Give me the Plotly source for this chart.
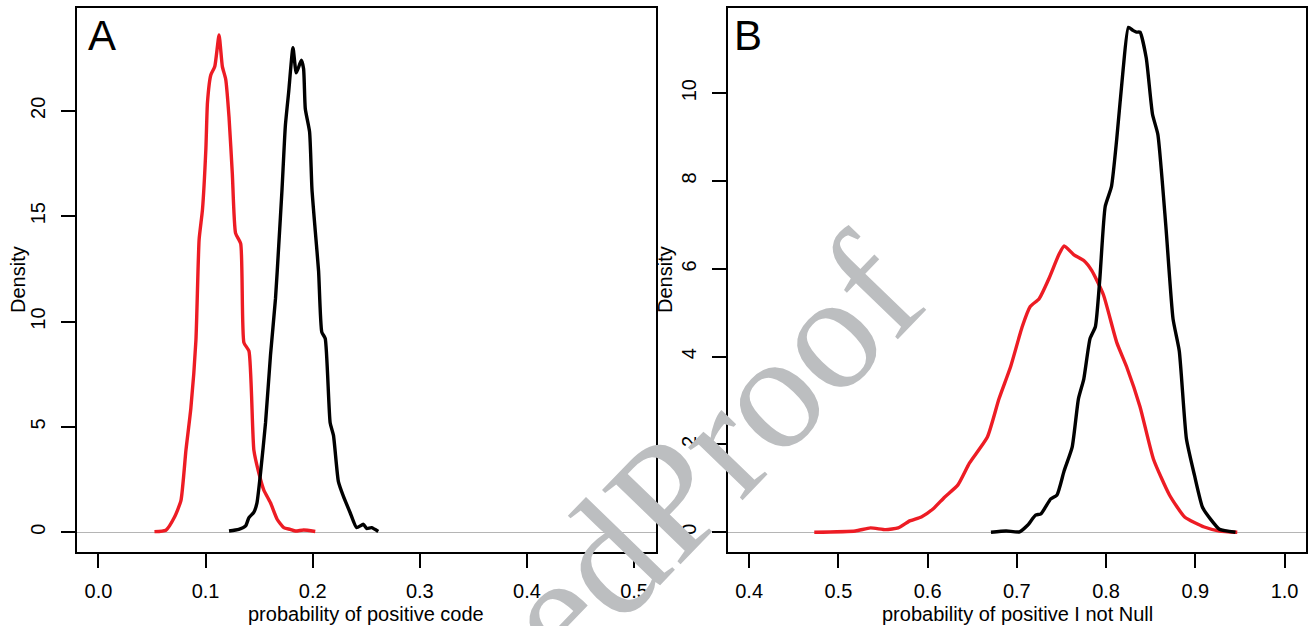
import plotly.graph_objects as go

# ---------------- data ----------------
# Panel A: probability of positive code
a_red_x = [0.0523, 0.063, 0.0708, 0.077, 0.0817, 0.0863, 0.091, 0.094, 0.0971, 0.1003,
           0.1018, 0.1049, 0.1086, 0.1126, 0.1157, 0.1188, 0.1219, 0.125, 0.128, 0.1328,
           0.1358, 0.1405, 0.1451, 0.1498, 0.1544, 0.1606, 0.1668, 0.173, 0.179, 0.184,
           0.1915, 0.2024]
a_red_y = [0.03, 0.1, 0.7, 1.5, 3.9, 5.9, 9.1, 13.9, 15.3, 18.2,
           20.4, 21.7, 22.1, 23.6, 22.1, 21.5, 19.7, 17.0, 14.2, 13.7,
           9.0, 8.6, 3.9, 2.8, 2.0, 1.4, 0.62, 0.22, 0.14, 0.06,
           0.11, 0.04]
a_blk_x = [0.1219, 0.131, 0.1374, 0.1405, 0.145, 0.148, 0.1513, 0.156, 0.1606, 0.1653,
           0.1683, 0.1714, 0.1745, 0.1776, 0.1816, 0.1847, 0.1894, 0.1915, 0.1931, 0.1971,
           0.1993, 0.2024, 0.2055, 0.2085, 0.2117, 0.2163, 0.2194, 0.224, 0.2287, 0.2349,
           0.241, 0.2473, 0.2503, 0.255, 0.2612]
a_blk_y = [0.06, 0.14, 0.3, 0.7, 0.94, 1.4, 2.8, 5.2, 8.4, 11.1,
           13.6, 16.3, 19.3, 20.9, 23.0, 21.8, 22.4, 22.0, 20.1, 19.0,
           16.3, 14.3, 12.4, 9.5, 9.2, 5.2, 4.6, 2.4, 1.7, 0.94,
           0.22, 0.38, 0.18, 0.22, 0.04]

# Panel B: probability of positive | not Null
b_red_x = [0.473, 0.519, 0.536, 0.553, 0.567, 0.58, 0.593, 0.606, 0.619, 0.634,
           0.647, 0.667, 0.68, 0.693, 0.706, 0.715, 0.725, 0.736, 0.747, 0.753,
           0.764, 0.775, 0.784, 0.797, 0.812, 0.823, 0.838, 0.853, 0.871, 0.888,
           0.91, 0.927, 0.947]
b_red_y = [0.0, 0.03, 0.1, 0.06, 0.1, 0.26, 0.35, 0.53, 0.8, 1.08,
           1.58, 2.17, 3.04, 3.77, 4.68, 5.14, 5.32, 5.78, 6.32, 6.52,
           6.32, 6.19, 5.96, 5.41, 4.32, 3.77, 2.86, 1.67, 0.85, 0.35,
           0.12, 0.03, 0.0]
b_blk_x = [0.671, 0.688, 0.703, 0.712, 0.721, 0.727, 0.738, 0.745, 0.753, 0.762,
           0.769, 0.775, 0.782, 0.788, 0.793, 0.799, 0.806, 0.812, 0.819, 0.825,
           0.83, 0.834, 0.838, 0.845, 0.852, 0.858, 0.867, 0.875, 0.882, 0.89,
           0.899, 0.908, 0.917, 0.927, 0.945]
b_blk_y = [0.0, 0.03, 0.01, 0.16, 0.39, 0.42, 0.76, 0.85, 1.4, 1.94,
           3.04, 3.49, 4.41, 4.68, 5.78, 7.42, 7.87, 8.97, 10.52, 11.5,
           11.43, 11.39, 11.39, 10.8, 9.52, 9.06, 6.96, 4.86, 4.13, 2.13,
           1.3, 0.57, 0.3, 0.07, 0.0]

a_xticks = [0.0, 0.1, 0.2, 0.3, 0.4, 0.5]
a_yticks = [0, 5, 10, 15, 20]
b_xticks = [0.4, 0.5, 0.6, 0.7, 0.8, 0.9, 1.0]
b_yticks = [0, 2, 4, 6, 8, 10]

# ---------------- figure ----------------
W, H = 1309, 626
RED = "#ED1C24"
FONT = "Liberation Sans, Arial, Helvetica, sans-serif"

fig = go.Figure()
line_kw = dict(width=3.4)
fig.add_trace(go.Scatter(x=a_red_x, y=a_red_y, mode="lines", line=dict(color=RED, shape="spline", smoothing=0.5, **line_kw), xaxis="x", yaxis="y", showlegend=False))
fig.add_trace(go.Scatter(x=a_blk_x, y=a_blk_y, mode="lines", line=dict(color="black", shape="spline", smoothing=0.5, **line_kw), xaxis="x", yaxis="y", showlegend=False))
fig.add_trace(go.Scatter(x=b_red_x, y=b_red_y, mode="lines", line=dict(color=RED, shape="spline", smoothing=0.5, **line_kw), xaxis="x2", yaxis="y2", showlegend=False))
fig.add_trace(go.Scatter(x=b_blk_x, y=b_blk_y, mode="lines", line=dict(color="black", shape="spline", smoothing=0.5, **line_kw), xaxis="x2", yaxis="y2", showlegend=False))

def px_x(p):
    return p / W

def px_y(p):
    return 1 - p / H

ydom = [px_y(552), px_y(8)]
common = dict(showgrid=False, showline=True, linecolor="black", linewidth=2, mirror=True,
              ticks="outside", ticklen=14, tickwidth=2, tickcolor="black",
              tickfont=dict(family=FONT, size=20, color="black"))

fig.update_layout(
    width=W, height=H, margin=dict(l=0, r=0, t=0, b=0),
    paper_bgcolor="white", plot_bgcolor="white",
    xaxis=dict(domain=[px_x(77), px_x(655.5)], range=[-0.02, 0.52], anchor="y",
               tickvals=a_xticks, tickformat=".1f", zeroline=False, ticklabelstandoff=6, **common),
    yaxis=dict(domain=ydom, range=[-0.935, 24.88], anchor="x", tickvals=a_yticks,
               tickangle=-90, zeroline=True, zerolinecolor="#b5b5b5", zerolinewidth=1,
               ticklabelstandoff=8, **common),
    xaxis2=dict(domain=[px_x(727.7), px_x(1306)], range=[0.376, 1.024], anchor="y2",
                tickvals=b_xticks, tickformat=".1f", zeroline=False, ticklabelstandoff=6, **common),
    yaxis2=dict(domain=ydom, range=[-0.449, 11.94], anchor="x2", tickvals=b_yticks,
                tickangle=-90, zeroline=True, zerolinecolor="#b5b5b5", zerolinewidth=1,
                ticklabelstandoff=8, **common),
)

ann = []
# watermark
ann.append(dict(text="UncorrectedProof", x=px_x(480.5), y=px_y(691.8), xref="paper", yref="paper",
                xanchor="center", yanchor="middle", showarrow=False, textangle=-46,
                font=dict(family="Liberation Serif, Times New Roman, serif", size=165, color="#bcbec0")))
# panel letters
ann.append(dict(text="A", x=px_x(101.5), y=px_y(36), xref="paper", yref="paper",
                xanchor="center", yanchor="middle", showarrow=False, font=dict(family=FONT, size=42, color="black")))
ann.append(dict(text="B", x=px_x(748), y=px_y(36), xref="paper", yref="paper",
                xanchor="center", yanchor="middle", showarrow=False, font=dict(family=FONT, size=42, color="black")))
# axis titles
ann.append(dict(text="probability of positive code", x=px_x(366), y=px_y(614), xref="paper", yref="paper",
                xanchor="center", yanchor="middle", showarrow=False, font=dict(family=FONT, size=20, color="black")))
ann.append(dict(text="probability of positive I not Null", x=px_x(1017), y=px_y(614), xref="paper", yref="paper",
                xanchor="center", yanchor="middle", showarrow=False, font=dict(family=FONT, size=20, color="black")))
ann.append(dict(text="Density", x=px_x(18), y=px_y(280), xref="paper", yref="paper", textangle=-90,
                xanchor="center", yanchor="middle", showarrow=False, font=dict(family=FONT, size=20, color="black")))
ann.append(dict(text="Density", x=px_x(665), y=px_y(280), xref="paper", yref="paper", textangle=-90,
                xanchor="center", yanchor="middle", showarrow=False, font=dict(family=FONT, size=20, color="black")))
fig.update_layout(annotations=ann)

fig.write_html("out.html", config={"displayModeBar": False},
               post_script="document.body.style.margin='0';document.body.style.padding='0';document.body.style.overflow='hidden';")
